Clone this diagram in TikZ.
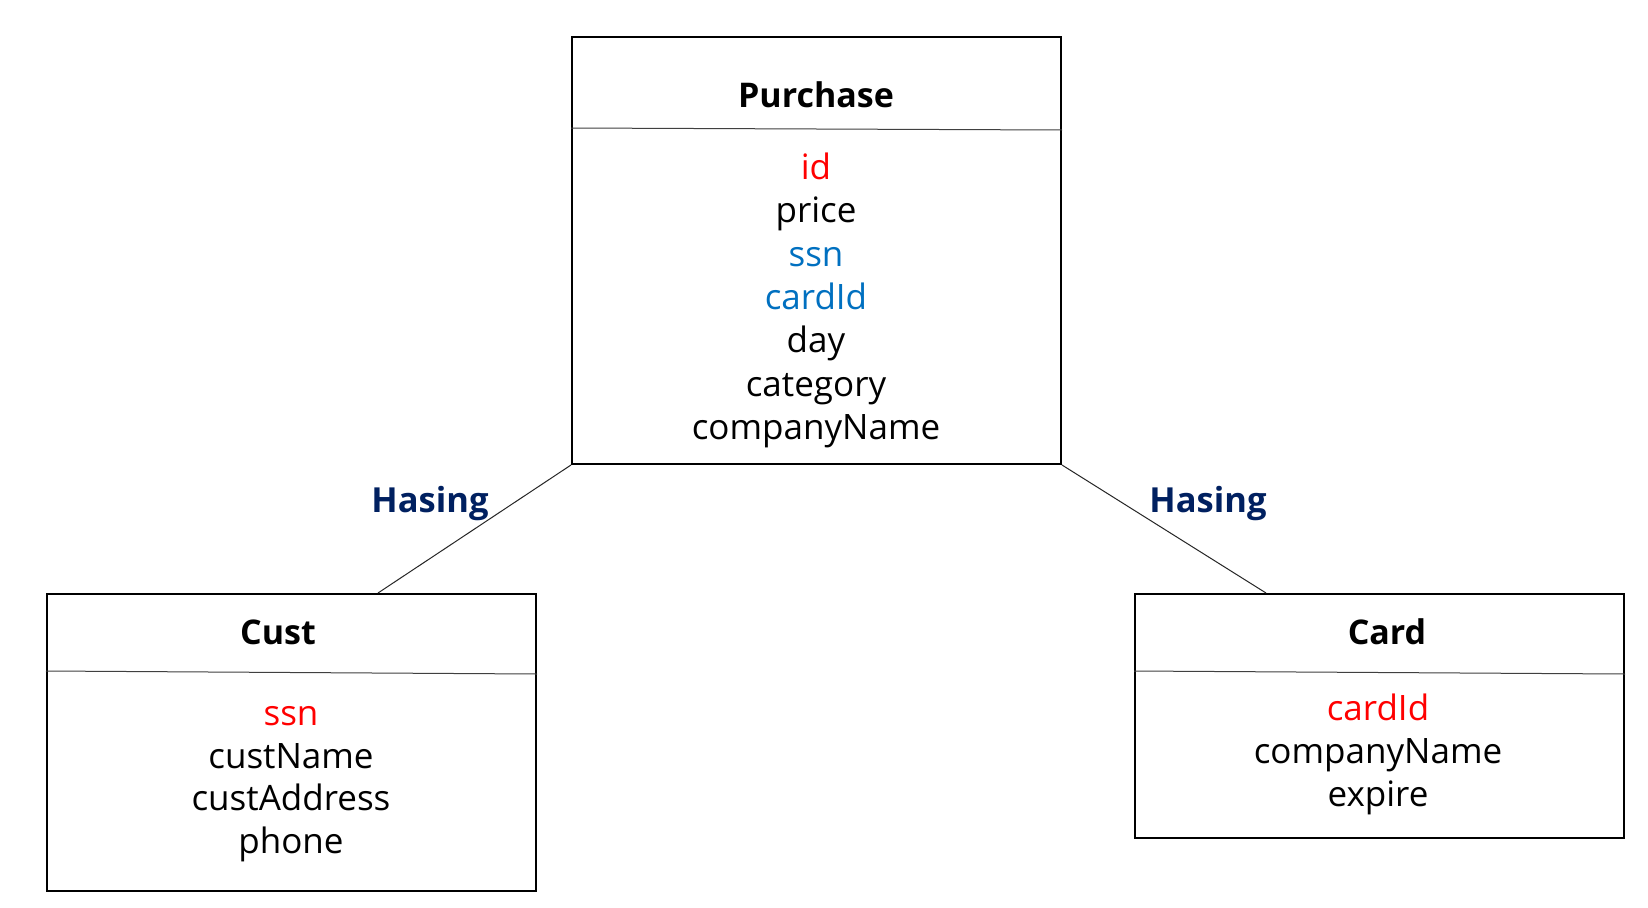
\documentclass[tikz,border=0pt]{standalone}
\usepackage{fontspec}
\setmainfont{Open Sans}
\definecolor{pkred}{RGB}{255,0,0}
\definecolor{fkblue}{RGB}{0,112,192}
\definecolor{relnavy}{RGB}{0,32,96}
\begin{document}
\begin{tikzpicture}[x=1pt,y=-1pt,
  entity/.style={draw=black, line width=2pt, rectangle, inner sep=0pt, anchor=north west, minimum width=489pt},
  title/.style={font=\fontsize{34}{34}\selectfont\bfseries, inner sep=0pt, anchor=base},
  attr/.style={font=\fontsize{35}{35}\selectfont, inner sep=0pt, anchor=base},
  rel/.style={font=\fontsize{34.5}{34.5}\selectfont\bfseries, text=relnavy, inner sep=0pt, anchor=base},
  sep/.style={draw=black!75, line width=1pt},
  conn/.style={draw=black!85, line width=1pt}]
\useasboundingbox[fill=white] (0,0) rectangle (1648,907);

% Entities
\node[entity, minimum height=427pt] (purchase) at (571,36) {};
\node[entity, minimum height=297pt] (cust) at (46,593) {};
\node[entity, minimum height=244pt] (card) at (1134,593) {};

% Separators
\draw[sep] (purchase.west |- 0,128) -- (purchase.east |- 0,130);
\draw[sep] (cust.west |- 0,671) -- (cust.east |- 0,674);
\draw[sep] (card.west |- 0,671) -- (card.east |- 0,674);

% Titles
\node[title] (tpurchase) at (816,107) {Purchase};
\node[title] (tcust) at (278,644) {Cust};
\node[title] (tcard) at (1387,644) {Card};

% Purchase attributes
\foreach \t [count=\i] in {{\color{pkred}id},price,{\color{fkblue}ssn},{\color{fkblue}cardId},day,category,companyName}
  \node[attr] (pa\i) at (816,179.5+43.3*\i-43.3) {\t};

% Cust attributes
\foreach \t [count=\i] in {{\color{pkred}ssn},custName,custAddress,phone}
  \node[attr] (ca\i) at (291,725.5+42.7*\i-42.7) {\t};

% Card attributes
\foreach \t [count=\i] in {{\color{pkred}cardId},companyName,expire}
  \node[attr] (da\i) at (1378,720+43*\i-43) {\t};

% Connectors
\draw[conn] (purchase.south west) -- ([xshift=332pt]cust.north west);
\draw[conn] (purchase.south east) -- ([xshift=132pt]card.north west);

% Relationship labels
\node[rel] (r1) at (430,512) {Hasing};
\node[rel] (r2) at (1208,512) {Hasing};
\end{tikzpicture}
\end{document}
